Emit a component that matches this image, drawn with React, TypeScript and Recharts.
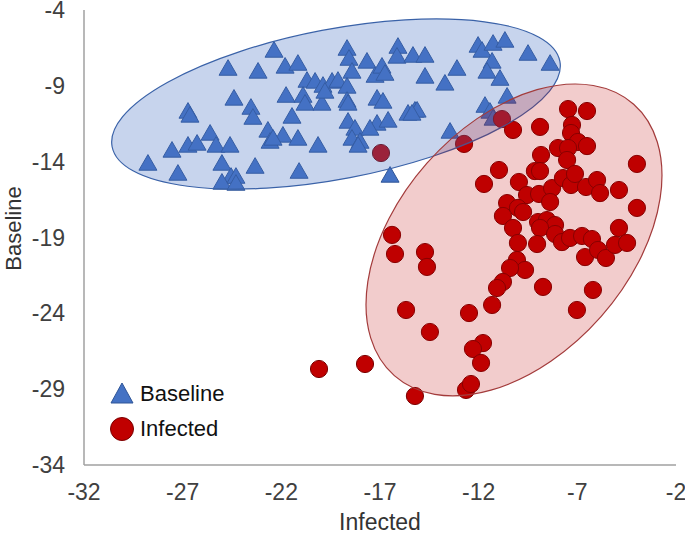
import React from 'react';
import { ScatterChart, Scatter, XAxis, YAxis, ReferenceArea, Legend } from 'recharts';

const FONT = '"Liberation Sans", Arial, sans-serif';

const xTicks = [-32, -27, -22, -17, -12, -7, -2];
const yTicks = [-34, -29, -24, -19, -14, -9, -4];

// Baseline (triangles): [Infected, Baseline]
const baselinePoints: number[][] = [
  [-28.76, -14.22], [-27.54, -13.36], [-27.24, -14.88], [-26.73, -13.03], [-26.27, -12.9],
  [-25.61, -12.24], [-25.31, -13.03], [-24.6, -13.03], [-26.73, -10.79], [-26.63, -11.05],
  [-24.7, -7.96], [-23.18, -8.15], [-24.4, -9.93], [-23.54, -10.53], [-23.44, -11.19],
  [-22.68, -12.04], [-22.57, -12.77], [-25.01, -14.22], [-24.55, -15.08], [-24.3, -15.08],
  [-25.01, -15.47], [-24.3, -15.54], [-23.33, -14.42], [-22.37, -6.77], [-21.81, -7.82],
  [-21.16, -7.63], [-20.7, -8.75], [-20.29, -8.81], [-19.89, -9.08], [-19.43, -8.81],
  [-19.13, -8.75], [-18.67, -6.64], [-18.57, -7.3], [-18.42, -8.15], [-18.67, -9.14],
  [-17.66, -7.49], [-17.25, -8.42], [-16.9, -7.82], [-16.75, -8.29], [-16.09, -6.51],
  [-16.14, -7.16], [-15.33, -7.1], [-21.76, -9.74], [-20.9, -9.74], [-20.8, -10.26],
  [-19.94, -10.26], [-19.79, -9.47], [-18.67, -10.07], [-18.62, -10.26], [-17.15, -9.93],
  [-16.85, -10.13], [-15.58, -10.92], [-15.23, -10.72], [-21.46, -11.12], [-21.92, -12.37],
  [-22.42, -12.57], [-21.16, -12.57], [-20.14, -13.03], [-18.62, -11.45], [-18.27, -11.91],
  [-18.42, -12.57], [-18.01, -12.77], [-17.15, -11.58], [-16.59, -11.38], [-17.51, -11.91],
  [-18.11, -13.03], [-21.1, -14.75], [-16.49, -15.01], [-14.72, -7.1], [-14.72, -8.48],
  [-13.71, -8.94], [-13.1, -7.96], [-12.03, -6.44], [-11.83, -6.77], [-11.27, -6.31],
  [-10.67, -6.11], [-11.32, -7.49], [-11.58, -8.15], [-10.92, -8.62], [-9.5, -6.97],
  [-8.38, -7.63], [-15.12, -10.72], [-15.38, -10.92], [-10.56, -9.8], [-11.68, -10.4],
  [-11.43, -10.79], [-11.27, -11.25], [-13.45, -12.11],
];

// Infected (circles): [Infected, Baseline]
const infectedPoints: number[][] = [
  [-16.95, -13.43], [-12.74, -12.83], [-10.82, -11.19], [-10.26, -11.91], [-8.89, -11.71],
  [-7.47, -10.53], [-6.51, -10.66], [-7.27, -11.58], [-7.32, -12.11], [-6.97, -12.7],
  [-6.51, -12.97], [-7.98, -13.1], [-7.47, -13.1], [-7.52, -13.89], [-8.84, -13.56],
  [-10.97, -14.55], [-11.73, -15.47], [-9.96, -15.34], [-9.15, -14.62], [-8.89, -14.62],
  [-9.55, -16.2], [-8.94, -16.13], [-8.28, -15.74], [-8.38, -16.66], [-7.73, -15.08],
  [-7.32, -15.54], [-7.12, -14.81], [-6.56, -15.67], [-6.0, -15.21], [-5.85, -16.07],
  [-4.89, -15.87], [-3.98, -14.15], [-3.98, -17.05], [-10.56, -16.73], [-10.01, -17.05],
  [-9.75, -17.32], [-10.77, -17.58], [-10.26, -18.37], [-10.01, -19.36], [-8.99, -17.98],
  [-8.54, -17.85], [-8.13, -18.18], [-8.89, -18.37], [-8.13, -18.77], [-9.04, -19.43],
  [-7.78, -19.3], [-7.37, -19.03], [-6.76, -18.9], [-6.26, -19.1], [-6.61, -20.29],
  [-5.95, -19.82], [-5.55, -20.35], [-4.89, -18.37], [-5.09, -19.49], [-4.48, -19.36],
  [-10.06, -20.48], [-9.65, -21.14], [-10.41, -21.01], [-10.77, -21.93], [-11.07, -22.33],
  [-8.74, -22.26], [-6.21, -22.46], [-11.32, -23.45], [-7.02, -23.78], [-12.49, -23.98],
  [-16.39, -18.83], [-16.24, -20.09], [-14.72, -19.96], [-14.62, -20.94], [-15.68, -23.78],
  [-14.47, -25.23], [-17.76, -27.34], [-20.09, -27.67], [-15.23, -29.45], [-11.78, -25.96],
  [-12.29, -26.35], [-11.88, -27.27], [-12.64, -29.05], [-12.39, -28.66],
];

// Confidence ellipses: centre and semi-axes in data units, tilt of the major axis
const ellipseNames = ['Baseline', 'Infected'];
const ellipseCenters = [[-19.23, -10.2], [-10.21, -19.16]];
const ellipseSemiAxes = [[11.55, 4.94], [9.17, 7.65]];
const ellipseTilt = [-10.8, -48.6];
const ellipseFill = ['#4472C4', '#C00000'];
const ellipseFillOpacity = [0.3, 0.2];
const ellipseStroke = ['#3A62A8', '#A33B3B'];

const baselineData = baselinePoints.map(([x, y]) => ({ x, y }));
const infectedData = infectedPoints.map(([x, y]) => ({ x, y }));

const Triangle = (props: any) => {
  const { cx, cy } = props;
  if (cx == null || cy == null) return null;
  const h = 9;
  return (
    <polygon
      points={`${cx},${cy - 10.4} ${cx - h},${cy + 5.2} ${cx + h},${cy + 5.2}`}
      fill="#4472C4"
      stroke="#2F5597"
      strokeWidth={1}
    />
  );
};

const Dot = (props: any) => {
  const { cx, cy } = props;
  if (cx == null || cy == null) return null;
  return <circle cx={cx} cy={cy} r={8.6} fill="#C00000" stroke="#7A0000" strokeWidth={1} />;
};

const makeEllipseShape = (i: number) => (props: any) => {
  const { x, y, width, height } = props;
  const cx = x + width / 2;
  const cy = y + height / 2;
  return (
    <ellipse
      cx={cx}
      cy={cy}
      rx={Math.abs(width) / 2}
      ry={Math.abs(height) / 2}
      transform={`rotate(${ellipseTilt[i]} ${cx} ${cy})`}
      fill={ellipseFill[i]}
      fillOpacity={ellipseFillOpacity[i]}
      stroke={ellipseStroke[i]}
      strokeWidth={1.2}
    />
  );
};

const renderLegend = () => (
  <div style={{ fontFamily: FONT, fontSize: 22, color: '#111' }}>
    <div style={{ display: 'flex', alignItems: 'center', height: 35 }}>
      <svg width={26} height={26}>
        <polygon points="13,2 2,22 24,22" fill="#4472C4" stroke="#2F5597" strokeWidth={1} />
      </svg>
      <span style={{ marginLeft: 5 }}>Baseline</span>
    </div>
    <div style={{ display: 'flex', alignItems: 'center', height: 35 }}>
      <svg width={26} height={26}>
        <circle cx={13} cy={13} r={11.5} fill="#C00000" stroke="#7A0000" strokeWidth={1} />
      </svg>
      <span style={{ marginLeft: 5 }}>Infected</span>
    </div>
  </div>
);

const YTitle = (props: any) => {
  const vb = props.viewBox || { x: 0, y: 0, width: 0, height: 0 };
  const x = vb.x + 13;
  const y = vb.y + vb.height / 2 - 9;
  return (
    <text
      x={x}
      y={y}
      transform={`rotate(-90 ${x} ${y})`}
      textAnchor="middle"
      dominantBaseline="central"
      style={{ fontSize: 22, fill: '#333', fontFamily: FONT }}
    >
      Baseline
    </text>
  );
};

export default function App() {
  const tickStyle = { fontSize: 23, fill: '#404040', fontFamily: FONT };
  return (
    <div style={{ position: 'absolute', left: 0, top: 0 }}>
      <ScatterChart width={685} height={535} margin={{ top: 10, right: 9, bottom: 0, left: 0 }}>
        <XAxis
          type="number"
          dataKey="x"
          domain={[-32, -2]}
          ticks={xTicks}
          interval={0}
          allowDataOverflow
          tickLine={false}
          tickSize={0}
          tickMargin={19}
          height={70}
          axisLine={{ stroke: '#A0A0A0', strokeWidth: 1.5 }}
          tick={tickStyle}
          label={{ value: 'Infected', position: 'insideBottom', offset: 5, style: { fontSize: 23, fill: '#333', fontFamily: FONT } }}
        />
        <YAxis
          type="number"
          dataKey="y"
          domain={[-34, -4]}
          ticks={yTicks}
          interval={0}
          allowDataOverflow
          tickLine={false}
          tickSize={0}
          tickMargin={19}
          width={84}
          axisLine={{ stroke: '#A0A0A0', strokeWidth: 1.5 }}
          tick={tickStyle}
          label={{ value: 'Baseline', content: YTitle }}
        />
        <Scatter name="Baseline" data={baselineData} shape={Triangle} isAnimationActive={false} />
        <Scatter name="Infected" data={infectedData} shape={Dot} isAnimationActive={false} />
        {ellipseNames.map((n, i) => (
          <ReferenceArea
            key={n}
            x1={ellipseCenters[i][0] - ellipseSemiAxes[i][0]}
            x2={ellipseCenters[i][0] + ellipseSemiAxes[i][0]}
            y1={ellipseCenters[i][1] - ellipseSemiAxes[i][1]}
            y2={ellipseCenters[i][1] + ellipseSemiAxes[i][1]}
            ifOverflow="visible"
            shape={makeEllipseShape(i)}
            zIndex={700 + i * 10}
          />
        ))}
        <Legend
          layout="horizontal"
          verticalAlign="middle"
          align="center"
          content={renderLegend}
          wrapperStyle={{ left: 109, top: 376, width: 160, height: 72 }}
        />
      </ScatterChart>
    </div>
  );
}
